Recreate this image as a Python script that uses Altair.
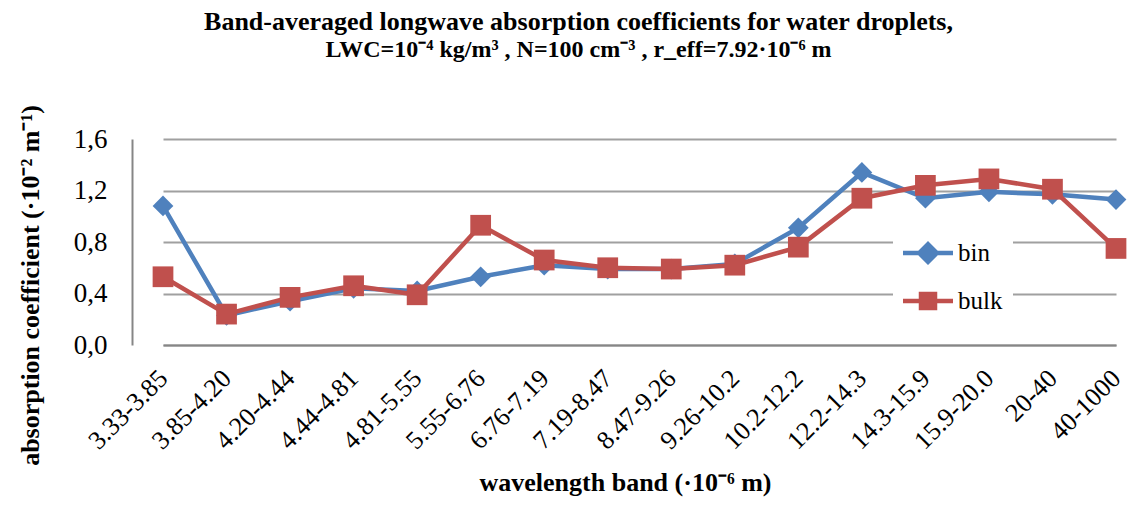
import altair as alt
import pandas as pd

bands = ["3.33-3.85", "3.85-4.20", "4.20-4.44", "4.44-4.81", "4.81-5.55",
         "5.55-6.76", "6.76-7.19", "7.19-8.47", "8.47-9.26", "9.26-10.2",
         "10.2-12.2", "12.2-14.3", "14.3-15.9", "15.9-20.0", "20-40", "40-1000"]
bin_vals = [1.08, 0.23, 0.34, 0.44, 0.42, 0.53, 0.62, 0.59, 0.59, 0.63,
            0.91, 1.34, 1.14, 1.19, 1.17, 1.13]
bulk_vals = [0.53, 0.24, 0.37, 0.46, 0.39, 0.93, 0.66, 0.60, 0.59, 0.62,
             0.76, 1.14, 1.24, 1.29, 1.21, 0.75]
series = ["bin", "bulk"]
colors = ["#4F81BD", "#C0504D"]
markers = ["diamond", "square"]
y_ticks = [0, 0.4, 0.8, 1.2, 1.6]

rows = []
for s, vals in zip(series, [bin_vals, bulk_vals]):
    for b, v in zip(bands, vals):
        rows.append({"band": b, "value": v, "series": s})
df = pd.DataFrame(rows)

FONT = "Liberation Serif"

x_enc = alt.X("band:N", sort=bands,
              scale=alt.Scale(type="point", range=[31, 984], padding=0),
              axis=alt.Axis(title="wavelength band (·10⁻⁶ m)", labelAngle=-45,
                            labelAlign="right", labelBaseline="middle",
                            labelPadding=29, labelFont=FONT, labelFontSize=26,
                            labelColor="black", ticks=False, domain=True,
                            domainColor="#868686", domainWidth=2, grid=False,
                            titleFont=FONT, titleFontSize=26, titleFontWeight="bold",
                            titleColor="black", titleX=493, titleY=137,
                            titleAlign="center", titleBaseline="middle"))
y_enc = alt.Y("value:Q",
              scale=alt.Scale(domain=[0, 1.6], nice=False, zero=True),
              axis=alt.Axis(title="absorption coefficient (·10⁻² m⁻¹)",
                            values=y_ticks,
                            labelExpr="replace(format(datum.value, '.1f'), '.', ',')",
                            labelFont=FONT, labelFontSize=27, labelColor="black",
                            labelPadding=25, ticks=False, domain=True,
                            domainColor="#868686", domainWidth=2, grid=True,
                            gridColor="#a0a0a0", gridWidth=2,
                            titleFont=FONT, titleFontSize=26, titleFontWeight="bold",
                            titleColor="black", titleX=-102, titleY=146,
                            titleAngle=-90, titleAlign="center",
                            titleBaseline="middle"))

color_scale = alt.Scale(domain=series, range=colors)

# legend symbols: a thick line with the series marker on it (filled paths)
legend_paths = [
    "M-1,-0.09L1,-0.09L1,0.09L-1,0.09Z M0,-0.48L0.48,0L0,0.48L-0.48,0Z",
    "M-1,-0.09L1,-0.09L1,0.09L-1,0.09Z M-0.37,-0.37L0.37,-0.37L0.37,0.37L-0.37,0.37Z",
]
leg = alt.Legend(title=None, orient="none", legendX=761, legendY=79,
                 fillColor="white", padding=10, symbolSize=2500,
                 symbolStrokeWidth=0, rowPadding=10,
                 labelFont=FONT, labelFontSize=25, labelColor="black",
                 labelOffset=5)

base = alt.Chart(df)
layers = []
for s, m in zip(series, markers):
    sub = base.transform_filter(alt.datum.series == s)
    layers.append(sub.mark_line(strokeWidth=4.5).encode(
        x=x_enc, y=y_enc,
        color=alt.Color("series:N", scale=color_scale, legend=leg)))
    layers.append(sub.mark_point(filled=True, opacity=1, size=430, shape=m).encode(
        x=x_enc, y=y_enc,
        color=alt.Color("series:N", scale=color_scale, legend=leg)))

# empty layer whose only job is to give the legend its symbols
legend_layer = base.transform_filter("datum.value < -100").mark_point(filled=True).encode(
    x=x_enc, y=y_enc,
    color=alt.Color("series:N", scale=color_scale, legend=leg),
    shape=alt.Shape("series:N", scale=alt.Scale(domain=series, range=legend_paths), legend=leg),
)
layers.append(legend_layer)

chart = alt.layer(*layers).properties(
    width=1007, height=206,
    autosize=alt.AutoSizeParams(type="none"),
    padding={"left": 124, "top": 131, "right": 0, "bottom": 153},
    background="white",
    title=alt.Title(
        text="Band-averaged longwave absorption coefficients for water droplets,",
        subtitle="LWC=10⁻⁴ kg/m³ , N=100 cm⁻³ , r_eff=7.92·10⁻⁶ m",
        font=FONT, fontSize=26, fontWeight="bold", color="black",
        subtitleFont=FONT, subtitleFontSize=24, subtitleFontWeight="bold",
        subtitleColor="black", subtitlePadding=3,
        anchor="middle", frame="group", dx=-57, offset=43),
).configure_view(stroke=None)

chart.save("out.html", embed_options={"renderer": "svg", "actions": False})
